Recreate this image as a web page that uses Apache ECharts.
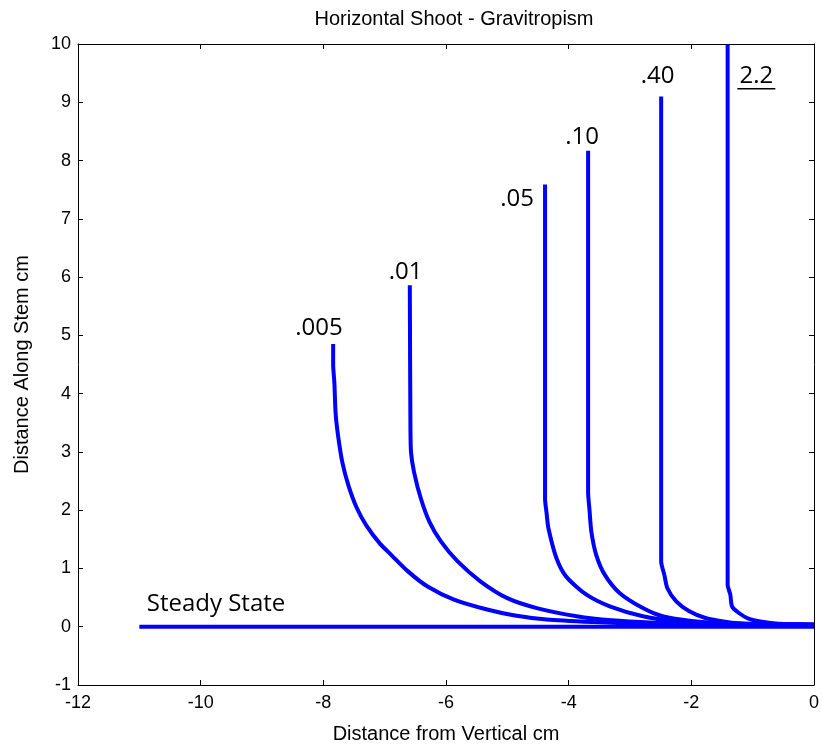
<!DOCTYPE html>
<html>
<head>
<meta charset="utf-8">
<script src="https://cdn.jsdelivr.net/npm/echarts@6/dist/echarts.min.js"></script>
<style>
  html, body { margin: 0; padding: 0; background: #fff; }
  #chart { width: 822px; height: 749px; }
</style>
</head>
<body>
<div id="chart"></div>
<script>
// axis ticks
var xTicks = [-12, -10, -8, -6, -4, -2, 0];
var yTicks = [-1, 0, 1, 2, 3, 4, 5, 6, 7, 8, 9, 10];

// steady state line
var steady = [[-11, 0], [0, 0]];

// curves, [distance from vertical, distance along stem]
var c005 = [[-7.84, 4.85], [-7.84, 4.5], [-7.82, 4.19], [-7.80, 3.67], [-7.76, 3.28], [-7.69, 2.82],
    [-7.59, 2.42], [-7.46, 2.05], [-7.30, 1.74], [-7.08, 1.43], [-6.89, 1.23], [-6.62, 0.95],
    [-6.30, 0.69], [-5.87, 0.465], [-5.33, 0.295], [-4.90, 0.198], [-4.36, 0.124], [-3.60, 0.08],
    [-2.8, 0.05], [-1.8, 0.035], [0, 0.03]];
var c01 = [[-6.59, 5.86], [-6.58, 3.45], [-6.57, 2.99], [-6.52, 2.65], [-6.41, 2.20], [-6.27, 1.80],
    [-6.08, 1.46], [-5.81, 1.12], [-5.44, 0.78], [-5.00, 0.49], [-4.52, 0.32], [-3.87, 0.18],
    [-3.3, 0.11], [-2.6, 0.07], [-1.8, 0.045], [0, 0.035]];
var c05 = [[-4.385, 7.59], [-4.385, 2.2], [-4.36, 1.95], [-4.33, 1.69], [-4.20, 1.18], [-4.04, 0.86],
    [-3.71, 0.55], [-3.33, 0.35], [-2.79, 0.18], [-2.25, 0.095], [-1.5, 0.055], [0, 0.035]];
var c10 = [[-3.683, 8.17], [-3.683, 2.31], [-3.66, 2.0], [-3.63, 1.63], [-3.55, 1.23], [-3.41, 0.89],
    [-3.17, 0.58], [-2.79, 0.32], [-2.47, 0.18], [-2.0, 0.10], [-1.4, 0.06], [0, 0.035]];
var c40 = [[-2.492, 9.10], [-2.492, 1.12], [-2.44, 0.89], [-2.39, 0.66], [-2.25, 0.44], [-2.04, 0.27],
    [-1.77, 0.15], [-1.45, 0.085], [-1.07, 0.045], [0, 0.035]];
var c22 = [[-1.408, 9.99], [-1.408, 0.72], [-1.364, 0.55], [-1.337, 0.35], [-1.23, 0.24], [-1.07, 0.14],
    [-0.85, 0.085], [-0.58, 0.05], [0, 0.035]];

// annotation texts and where they sit
var labelNames = ['.005', '.01', '.05', '.10', '.40', '2.2', 'Steady State'];
var labelPos = [[-8.07, 5.12], [-6.66, 6.09], [-4.84, 7.34], [-3.78, 8.40], [-2.55, 9.45], [-0.94, 9.44], [-9.75, 0.38]];

var chart = echarts.init(document.getElementById('chart'));
var blue = '#0000ff';
var axisFont = 'Liberation Sans, Arial, sans-serif';

var curve = function (data) {
    return {
        type: 'line',
        data: data,
        showSymbol: false,
        symbol: 'none',
        smooth: 0.25,
        lineStyle: {color: blue, width: 4},
        silent: true,
        animation: false
    };
};

var frameX = function (pos, show) {
    return {
        type: 'value', position: pos, min: -12, max: 0, interval: 2,
        axisLine: {onZero: false, lineStyle: {color: '#000', width: 1}},
        axisTick: {inside: true, length: 5, lineStyle: {color: '#000'}},
        axisLabel: {show: show, color: '#000', fontSize: 18, fontFamily: axisFont, margin: 9},
        splitLine: {show: false}
    };
};
var frameY = function (pos, show) {
    return {
        type: 'value', position: pos, min: -1, max: 10, interval: 1,
        axisLine: {onZero: false, lineStyle: {color: '#000', width: 1}},
        axisTick: {inside: true, length: 5, lineStyle: {color: '#000'}},
        axisLabel: {show: show, color: '#000', fontSize: 18, fontFamily: axisFont, margin: 7},
        splitLine: {show: false}
    };
};

var xMain = frameX('bottom', true);
xMain.name = 'Distance from Vertical cm';
xMain.nameLocation = 'middle';
xMain.nameGap = 39;
xMain.nameTextStyle = {color: '#000', fontSize: 20, fontFamily: axisFont};
var yMain = frameY('left', true);
yMain.name = 'Distance Along Stem cm';
yMain.nameLocation = 'middle';
yMain.nameGap = 46;
yMain.nameTextStyle = {color: '#000', fontSize: 20, fontFamily: axisFont};

var labelData = labelNames.map(function (n, i) {
    return {name: n, value: labelPos[i]};
});

chart.setOption({
    animation: false,
    backgroundColor: '#fff',
    title: {
        text: 'Horizontal Shoot - Gravitropism',
        left: 449, top: 4, textAlign: 'center',
        textStyle: {color: '#000', fontSize: 20, fontWeight: 'normal', fontFamily: axisFont}
    },
    grid: {left: 78, right: 3, top: 44, bottom: 59},
    xAxis: [xMain, frameX('top', false)],
    yAxis: [yMain, frameY('right', false)],
    series: [
        curve(steady), curve(c005), curve(c01), curve(c05), curve(c10), curve(c40), curve(c22),
        {
            type: 'scatter',
            data: labelData,
            symbolSize: 0,
            silent: true,
            itemStyle: {opacity: 1},
            label: {
                show: true, position: 'inside', formatter: '{b}',
                color: '#000', opacity: 1, fontSize: 24, fontFamily: 'Open Sans, sans-serif'
            }
        }
    ]
});

// underline under the 2.2 label
var p = chart.convertToPixel({gridIndex: 0}, labelPos[5]);
chart.setOption({
    graphic: [{
        type: 'line',
        shape: {x1: p[0] - 19, y1: p[1] + 12, x2: p[0] + 19, y2: p[1] + 12},
        style: {stroke: '#000', lineWidth: 1.5},
        silent: true
    }]
});
</script>
</body>
</html>
